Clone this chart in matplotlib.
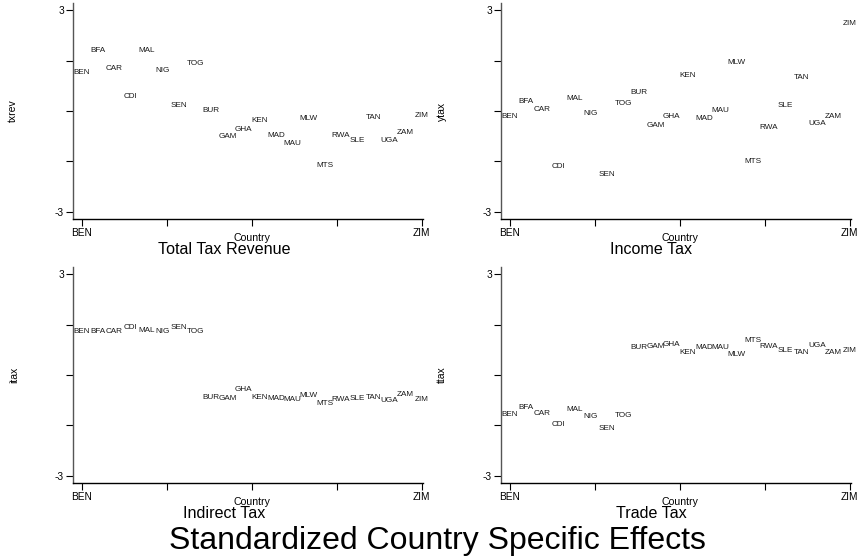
import matplotlib
matplotlib.use("Agg")
import matplotlib.pyplot as plt
import numpy as np

plt.rcParams['font.family'] = ['Liberation Sans', 'DejaVu Sans']

# countries in plotting order (x = 1..22)
countries = ['BEN', 'BFA', 'CAR', 'CDI', 'MAL', 'NIG', 'SEN', 'TOG',
             'BUR', 'GAM', 'GHA', 'KEN', 'MAD', 'MAU', 'MLW', 'MTS',
             'RWA', 'SLE', 'TAN', 'UGA', 'ZAM', 'ZIM']

# standardized country effects
txrev = [1.14, 1.79, 1.26, 0.42, 1.79, 1.21, 0.15, 1.42,
         0.01, -0.77, -0.56, -0.27, -0.74, -0.98, -0.21, -1.63,
         -0.74, -0.89, -0.18, -0.89, -0.65, -0.12]
ytax = [-0.17, 0.28, 0.05, -1.65, 0.37, -0.08, -1.88, 0.22,
        0.54, -0.44, -0.17, 1.05, -0.22, 0.02, 1.43, -1.51,
        -0.50, 0.16, 0.99, -0.38, -0.17, 2.59]
itax = [1.30, 1.30, 1.30, 1.40, 1.32, 1.30, 1.40, 1.29,
        -0.66, -0.69, -0.44, -0.67, -0.70, -0.73, -0.62, -0.85,
        -0.72, -0.70, -0.66, -0.77, -0.59, -0.72]
ttax = [-1.18, -0.98, -1.13, -1.46, -1.04, -1.23, -1.58, -1.19,
        0.83, 0.85, 0.92, 0.66, 0.81, 0.81, 0.62, 1.04,
        0.86, 0.72, 0.66, 0.87, 0.66, 0.72]

panels = [
    ('txrev', 'Total Tax Revenue', txrev),
    ('ytax', 'Income Tax', ytax),
    ('itax', 'Indirect Tax', itax),
    ('ttax', 'Trade Tax', ttax),
]

W, H = 859, 560
fig = plt.figure(figsize=(W / 100, H / 100), dpi=100)

# axes boxes in pixels: left, top, right, bottom
boxes = [(73, 3, 423, 219), (501, 3, 851, 219),
         (73, 267, 423, 483), (501, 267, 851, 483)]
ylab_x = [13, 442, 14, 442]
title_x = [224, 651, 224, 651]

x = np.arange(1, len(countries) + 1)
xt = np.linspace(1, len(countries), 5)

for i, (yname, title, vals) in enumerate(panels):
    l, t, r, b = boxes[i]
    ax = fig.add_axes([l / W, 1 - b / H, (r - l) / W, (b - t) / H])
    for xi, yi, c in zip(x, vals, countries):
        ax.text(xi, yi, c, fontsize=5.9, ha='center', va='center',
                color='#1a1a1a')
    ax.set_xlim(0.45, 22.07)
    ax.set_ylim(-3.21, 3.21)
    ax.set_xticks(xt)
    ax.set_xticklabels(['BEN', '', '', '', 'ZIM'], fontsize=7.3)
    ax.set_yticks([-3, -1.5, 0, 1.5, 3])
    ax.set_yticklabels(['-3', '', '', '', '3'], fontsize=7.3)
    ax.tick_params(length=5, width=0.8, pad=1.5, color='black')
    for s in ['top', 'right']:
        ax.spines[s].set_visible(False)
    ax.spines['left'].set_color('#555555')
    ax.spines['left'].set_linewidth(1.0)
    ax.spines['bottom'].set_linewidth(1.0)

    # y axis label
    y0 = t + (b - t) / 2
    fig.text(ylab_x[i] / W, 1 - y0 / H, yname, rotation=90, fontsize=7.5,
             ha='center', va='center')
    # x axis label, centred on data
    xc = l + (r - l) * (11.5 - 0.45) / (22.07 - 0.45)
    fig.text(xc / W, 1 - (b + 19) / H, 'Country', fontsize=7.6,
             ha='center', va='center')
    fig.text(title_x[i] / W, 1 - (b + 31) / H, title, fontsize=11.6,
             ha='center', va='center')

fig.text(437 / W, 1 - 541 / H, 'Standardized Country Specific Effects',
         fontsize=23, ha='center', va='center')

fig.savefig('out.png', dpi=100)
